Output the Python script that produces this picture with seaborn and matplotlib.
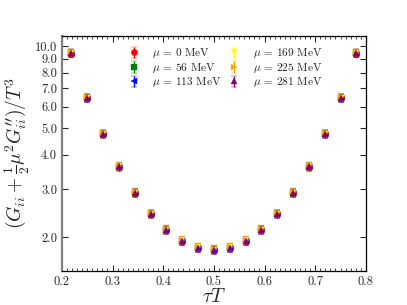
import numpy as np
import matplotlib
matplotlib.use("Agg")
import matplotlib.pyplot as plt
from matplotlib.ticker import FixedLocator, FixedFormatter, MultipleLocator, NullLocator
import seaborn as sns

# tau*T = n/32, n = 7..25
tau_T = [7/32, 8/32, 9/32, 10/32, 11/32, 12/32, 13/32, 14/32, 15/32, 16/32,
         17/32, 18/32, 19/32, 20/32, 21/32, 22/32, 23/32, 24/32, 25/32]

mu_labels = ["0", "56", "113", "169", "225", "281"]

g_mu0 = [9.40, 6.45, 4.76, 3.62, 2.90, 2.42, 2.12, 1.94, 1.83, 1.79,
         1.83, 1.94, 2.12, 2.42, 2.90, 3.62, 4.76, 6.45, 9.40]
g_mu56 = [9.41, 6.46, 4.76, 3.62, 2.90, 2.42, 2.12, 1.94, 1.83, 1.79,
          1.83, 1.94, 2.12, 2.42, 2.90, 3.62, 4.76, 6.46, 9.41]
g_mu113 = [9.42, 6.46, 4.77, 3.63, 2.91, 2.43, 2.12, 1.94, 1.83, 1.80,
           1.83, 1.94, 2.12, 2.43, 2.91, 3.63, 4.77, 6.46, 9.42]
g_mu169 = [9.45, 6.48, 4.78, 3.64, 2.91, 2.43, 2.13, 1.95, 1.84, 1.80,
           1.84, 1.95, 2.13, 2.43, 2.91, 3.64, 4.78, 6.48, 9.45]
g_mu225 = [9.48, 6.50, 4.80, 3.65, 2.92, 2.44, 2.14, 1.95, 1.84, 1.81,
           1.84, 1.95, 2.14, 2.44, 2.92, 3.65, 4.80, 6.50, 9.48]
g_mu281 = [9.44, 6.47, 4.77, 3.63, 2.91, 2.43, 2.13, 1.94, 1.83, 1.80,
           1.83, 1.94, 2.13, 2.43, 2.91, 3.63, 4.77, 6.47, 9.44]

g_err = [0.30, 0.20, 0.15, 0.12, 0.095, 0.08, 0.07, 0.065, 0.06, 0.06,
         0.06, 0.065, 0.07, 0.08, 0.095, 0.12, 0.15, 0.20, 0.30]

series = [g_mu0, g_mu56, g_mu113, g_mu169, g_mu225, g_mu281]
colors = ["red", "green", "blue", "yellow", "orange", "purple"]
markers = ["o", "s", "<", "v", ">", "^"]

y_ticks = [2, 3, 4, 5, 6, 7, 8, 9, 10]
y_ticklabels = ["2.0", "3.0", "4.0", "5.0", "6.0", "7.0", "8.0", "9.0", "10.0"]
x_ticks = [0.2, 0.3, 0.4, 0.5, 0.6, 0.7, 0.8]
x_ticklabels = ["0.2", "0.3", "0.4", "0.5", "0.6", "0.7", "0.8"]

sns.set_style("ticks")
plt.rcParams["font.family"] = "serif"
plt.rcParams["font.serif"] = ["cmr10", "DejaVu Serif"]
plt.rcParams["mathtext.fontset"] = "cm"
plt.rcParams["axes.formatter.use_mathtext"] = True

fig = plt.figure(figsize=(4.07, 3.05), dpi=100)
ax = fig.add_axes([0.152, 0.111, 0.747, 0.771])

for vals, c, m, lab in zip(series, colors, markers, mu_labels):
    ax.errorbar(tau_T, vals, yerr=g_err, fmt=m, color=c, markersize=5,
                markeredgewidth=0.3, markeredgecolor=c, elinewidth=1.0,
                capsize=2, capthick=1.0, linestyle="none",
                label=r"$\mu\,=\,%s$ MeV" % lab)

ax.set_yscale("log")
ax.set_xlim(0.2, 0.8)
ax.set_ylim(1.5, 10.9)

ax.yaxis.set_major_locator(FixedLocator(y_ticks))
ax.yaxis.set_major_formatter(FixedFormatter(y_ticklabels))
ax.yaxis.set_minor_locator(NullLocator())
ax.set_xticks(x_ticks)
ax.set_xticklabels(x_ticklabels)
ax.xaxis.set_minor_locator(MultipleLocator(0.01))

ax.tick_params(which="both", direction="in", top=True, right=True, labelsize=9)
ax.tick_params(which="major", length=4, width=0.8)
ax.tick_params(which="minor", length=2, width=0.6)

for side in ["top", "right", "bottom"]:
    ax.spines[side].set_color("black")
    ax.spines[side].set_linewidth(0.9)
ax.spines["left"].set_color("gray")
ax.spines["left"].set_linewidth(1.6)

ax.set_xlabel(r"$\tau T$", fontsize=14, labelpad=0)
ax.set_ylabel(r"$(G_{ii} + \frac{1}{2}\mu^2 G^{\prime\prime}_{ii})/T^3$", fontsize=14, labelpad=2)

ax.legend(loc="upper left", bbox_to_anchor=(0.185, 1.0), ncol=2, frameon=False,
          fontsize=8.2, handlelength=1.0, handletextpad=1.1, columnspacing=0.6,
          labelspacing=0.05, numpoints=1, markerscale=0.9)

fig.savefig("out.png", dpi=100)
